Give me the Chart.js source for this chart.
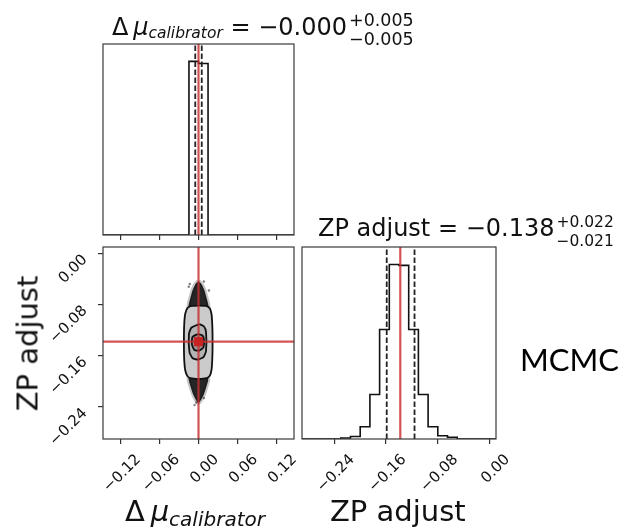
<!DOCTYPE html>
<html>
<head>
<meta charset="utf-8">
<script src="https://cdn.jsdelivr.net/npm/chart.js@4.4.1/dist/chart.umd.min.js"></script>
<style>
  body { margin: 0; width: 623px; height: 528px; background: #fff; position: relative; overflow: hidden; font-family: 'DejaVu Sans', sans-serif; color: #111; }
  canvas { position: absolute; }
  .txt { position: absolute; white-space: nowrap; }
  .title { font-size: 24px; line-height: 24px; }
  .axlabel { font-size: 29px; line-height: 29px; }
  .it { font-style: italic; }
  .title .subs { font-size: 15.5px; font-style: italic; vertical-align: -3px; }
  .axlabel .subs { font-size: 20px; font-style: italic; vertical-align: -5px; }
  .stack { display: inline-block; vertical-align: -10.5px; font-size: 15.5px; line-height: 19px; margin-left: 2px; }
  .stack.big { font-size: 17.5px; }
  .stack span { display: block; }
  #mcmc { font-family: Lato, sans-serif; font-size: 31px; line-height: 31px; left: 520px; top: 344px; color: #000; }
</style>
</head>
<body>
<canvas id="histDelta" width="230" height="211" style="left:83px; top:34px"></canvas>
<canvas id="joint" width="313" height="291" style="left:0px; top:237px"></canvas>
<canvas id="histZp" width="327" height="291" style="left:296px; top:237px"></canvas>

<div class="txt title" style="left:112px; top:11px">&Delta;&thinsp;<span class="it">&mu;</span><span class="subs">calibrator</span> = &minus;0.000<span class="stack big"><span>+0.005</span><span>&minus;0.005</span></span></div>
<div class="txt title" style="left:318px; top:213px">ZP adjust = &minus;0.138<span class="stack"><span>+0.022</span><span>&minus;0.021</span></span></div>
<div class="txt axlabel" style="left:125px; top:497px">&Delta;&thinsp;<span class="it">&mu;</span><span class="subs">calibrator</span></div>
<div class="txt axlabel" style="left:330px; top:497px">ZP adjust</div>
<div class="txt axlabel" style="left:-72px; top:329px; width:200px; text-align:center; transform:rotate(-90deg)">ZP adjust</div>
<div class="txt" id="mcmc">MCMC</div>

<script>
// parameter ranges and ticks
const deltaRange = [-0.147, 0.147];
const zpRange = [-0.29, 0.01];
const deltaTicks = [-0.12, -0.06, 0.00, 0.06, 0.12];
const zpTicks = [-0.24, -0.16, -0.08, 0.00];

// marginal histograms (20 bins each)
const deltaEdges = [-0.147, -0.1323, -0.1176, -0.1029, -0.0882, -0.0735, -0.0588, -0.0441, -0.0294, -0.0147,
  0.0, 0.0147, 0.0294, 0.0441, 0.0588, 0.0735, 0.0882, 0.1029, 0.1176, 0.1323, 0.147];
const deltaCounts = [0, 0, 0, 0, 0, 0, 0, 0, 0, 5030, 4970, 0, 0, 0, 0, 0, 0, 0, 0, 0];
const zpEdges = [-0.29, -0.275, -0.26, -0.245, -0.23, -0.215, -0.2, -0.185, -0.17, -0.155,
  -0.14, -0.125, -0.11, -0.095, -0.08, -0.065, -0.05, -0.035, -0.02, -0.005, 0.01];
const zpCounts = [0, 0, 0, 0, 6, 14, 70, 255, 627, 1000, 995, 627, 255, 70, 19, 10, 0, 0, 0, 0];

// median and 16/84 percentile offsets
const deltaMedian = 0.0, deltaErr = [0.005, 0.005];
const zpMedian = -0.138, zpErr = [0.021, 0.022];
const truth = [0.0, -0.138];

// 2D panel: dense sample tails above and below the contours
const upperTail = [[0, -0.0431], [0.0046, -0.0478], [0.0090, -0.0572], [0.0125, -0.0697], [0.0150, -0.0800],
  [0.0150, -0.0900], [-0.0150, -0.0900], [-0.0150, -0.0800], [-0.0125, -0.0697], [-0.0090, -0.0572],
  [-0.0046, -0.0478]];
const lowerTail = [[0.0150, -0.1870], [0.0150, -0.1978], [0.0120, -0.2088], [0.0085, -0.2197], [0.0039, -0.2291],
  [0, -0.2338], [-0.0039, -0.2291], [-0.0085, -0.2197], [-0.0120, -0.2088], [-0.0150, -0.1978],
  [-0.0150, -0.1870]];
// density contours, outermost first
const outerContour = [[-0.0125, -0.0822], [0, -0.0815], [0.0125, -0.0822], [0.0175, -0.0860], [0.0200, -0.0947],
  [0.0210, -0.1072], [0.0216, -0.1259], [0.0216, -0.1509], [0.0210, -0.1697], [0.0200, -0.1822],
  [0.0175, -0.1910], [0.0125, -0.1950], [0, -0.1963], [-0.0125, -0.1950], [-0.0175, -0.1910],
  [-0.0205, -0.1822], [-0.0218, -0.1697], [-0.0224, -0.1509], [-0.0224, -0.1259], [-0.0218, -0.1072],
  [-0.0205, -0.0947], [-0.0175, -0.0860]];
const middleContour = [[0.0015, -0.1103], [0.0085, -0.1142], [0.0116, -0.1228], [0.0116, -0.1525], [0.0077, -0.1619],
  [-0.0008, -0.1658], [-0.0093, -0.1634], [-0.0139, -0.1541], [-0.0147, -0.1259], [-0.0108, -0.1158]];
const innerContour = [[-0.0008, -0.1259], [0.0062, -0.1283], [0.0085, -0.1353], [0.0077, -0.1463], [0.0015, -0.1517],
  [-0.0062, -0.1509], [-0.0100, -0.1431], [-0.0093, -0.1306]];
const looseSamples = [[-0.0134, -0.0478], [0.0082, -0.0440], [-0.0150, -0.0520], [0.0160, -0.0580],
  [-0.0035, -0.2330], [0.0082, -0.2260], [-0.0060, -0.2370]];

Chart.defaults.font.family = "'DejaVu Sans'";
Chart.defaults.color = '#111';
Chart.defaults.animation = false;
Chart.defaults.events = [];
Chart.defaults.plugins.legend.display = false;
Chart.defaults.plugins.tooltip.enabled = false;

const red = 'rgba(200, 45, 45, 0.82)';
const tickText = v => Math.abs(v) < 1e-9 ? '0.00' : v.toFixed(2).replace('-', '\u2212');
const pts = arr => arr.map(([x, y]) => ({ x, y }));
const closed = arr => pts(arr.concat([arr[0]]));

// box around every panel
const frame = {
  id: 'frame',
  afterDatasetsDraw(chart) {
    const { ctx, chartArea: a } = chart;
    ctx.save();
    ctx.strokeStyle = '#3a3a3a';
    ctx.lineWidth = 1.2;
    ctx.strokeRect(a.left, a.top, a.right - a.left, a.bottom - a.top);
    ctx.restore();
  }
};

const tickGrid = { display: true, drawOnChartArea: false, drawTicks: true, tickLength: 5, color: '#333', lineWidth: 1.2 };

function xAxis(range, ticks, height, showLabels) {
  return {
    type: 'linear', min: range[0], max: range[1],
    afterBuildTicks: s => { s.ticks = ticks.map(v => ({ value: v })); },
    afterFit: s => { s.height = height; s.paddingLeft = 0; s.paddingRight = 0; },
    grid: tickGrid,
    border: { display: false },
    ticks: {
      display: showLabels, autoSkip: false, minRotation: 45, maxRotation: 45,
      padding: 7, labelOffset: 18, font: { size: 15 }, callback: v => tickText(v)
    }
  };
}

function histY(counts) {
  return { type: 'linear', display: false, min: 0, max: 1.1 * Math.max(...counts) };
}

// step outline of a histogram from its bin edges and counts
function stepLine(edges, counts) {
  const out = [{ x: edges[0], y: 0 }];
  counts.forEach((c, i) => out.push({ x: edges[i], y: c }));
  out.push({ x: edges[edges.length - 1], y: 0 });
  return { data: out, stepped: 'before', borderColor: '#111', borderWidth: 1.6, pointRadius: 0, order: 5 };
}

function vLine(x, y0, y1, color, dash, order) {
  return { data: [{ x, y: y0 }, { x, y: y1 }], borderColor: color, borderWidth: dash ? 1.8 : 2.2,
    borderDash: dash ? [5.5, 2.5] : [], pointRadius: 0, order };
}

const deltaTop = 1.1 * Math.max(...deltaCounts);
new Chart(document.getElementById('histDelta'), {
  type: 'line',
  data: {
    datasets: [
      vLine(truth[0], 0, deltaTop, red, false, 0),
      vLine(deltaMedian - deltaErr[0], 0, deltaTop, '#222', true, 1),
      vLine(deltaMedian + deltaErr[1], 0, deltaTop, '#222', true, 1),
      stepLine(deltaEdges, deltaCounts)
    ]
  },
  plugins: [frame],
  options: {
    responsive: false,
    layout: { padding: { left: 20, right: 19, top: 10, bottom: 0 } },
    scales: { x: xAxis(deltaRange, deltaTicks, 10, false), y: histY(deltaCounts) }
  }
});

const zpTop = 1.1 * Math.max(...zpCounts);
new Chart(document.getElementById('histZp'), {
  type: 'line',
  data: {
    datasets: [
      vLine(truth[1], 0, zpTop, red, false, 0),
      vLine(zpMedian - zpErr[0], 0, zpTop, '#222', true, 1),
      vLine(zpMedian + zpErr[1], 0, zpTop, '#222', true, 1),
      stepLine(zpEdges, zpCounts)
    ]
  },
  plugins: [frame],
  options: {
    responsive: false,
    layout: { padding: { left: 6, right: 127, top: 10, bottom: 0 } },
    scales: { x: xAxis(zpRange, zpTicks, 89, true), y: histY(zpCounts) }
  }
});

const shape = (arr, fillColor, order) => ({
  data: closed(arr), fill: 'shape', backgroundColor: fillColor, borderColor: '#111',
  borderWidth: 1.8, pointRadius: 0, tension: 0.2, order
});
// sample tails: dense core with a soft, speckled rim
const tail = arr => ({
  data: closed(arr), fill: 'shape', backgroundColor: 'rgba(0,0,0,0.85)', borderColor: 'rgba(0,0,0,0.22)',
  borderWidth: 4, pointRadius: 0, tension: 0.2, order: 6
});

new Chart(document.getElementById('joint'), {
  type: 'line',
  data: {
    datasets: [
      { data: pts([truth]), showLine: false, pointStyle: 'rect', pointRadius: 6.5, backgroundColor: 'rgb(200,35,35)',
        borderWidth: 0, order: 0 },
      { data: [{ x: truth[0], y: zpRange[0] }, { x: truth[0], y: zpRange[1] }], borderColor: red, borderWidth: 2.2,
        pointRadius: 0, order: 1 },
      { data: [{ x: deltaRange[0], y: truth[1] }, { x: deltaRange[1], y: truth[1] }], borderColor: red, borderWidth: 2.2,
        pointRadius: 0, order: 1 },
      shape(innerContour, '#959595', 2),
      shape(middleContour, '#b3b3b3', 3),
      shape(outerContour, '#cbcbcb', 4),
      { data: pts(looseSamples), showLine: false, pointRadius: 1.2, backgroundColor: 'rgba(0,0,0,0.5)', borderWidth: 0, order: 5 },
      tail(upperTail),
      tail(lowerTail)
    ]
  },
  plugins: [frame],
  options: {
    responsive: false,
    layout: { padding: { left: 0, right: 19, top: 10, bottom: 0 } },
    scales: {
      x: xAxis(deltaRange, deltaTicks, 89, true),
      y: {
        type: 'linear', min: zpRange[0], max: zpRange[1],
        afterBuildTicks: s => { s.ticks = zpTicks.map(v => ({ value: v })); },
        afterFit: s => { s.width = 103; s.paddingTop = 0; s.paddingBottom = 0; },
        grid: tickGrid,
        border: { display: false },
        ticks: { minRotation: 45, maxRotation: 45, padding: 13, labelOffset: 4, font: { size: 15 }, callback: v => tickText(v) }
      }
    }
  }
});
</script>
</body>
</html>
